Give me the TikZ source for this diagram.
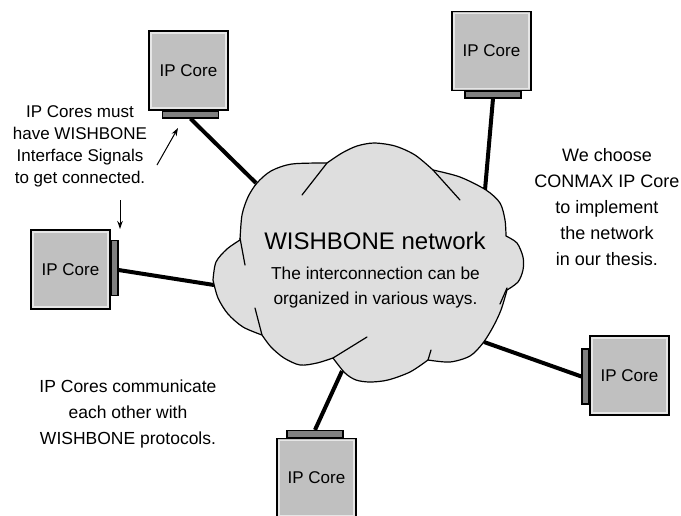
\documentclass[tikz,border=0pt]{standalone}
\usepackage{fontspec}
\setmainfont{Liberation Sans}
\usetikzlibrary{arrows.meta}
\definecolor{corefill}{HTML}{C0C0C0}
\definecolor{tabfill}{HTML}{808080}
\definecolor{cloudfill}{HTML}{DEDEDE}
\definecolor{hilite}{HTML}{E6E6E6}
\tikzset{
  core/.style={draw=black, line width=1.6pt, fill=corefill, minimum width=79pt, minimum height=79pt,
    inner sep=0pt, font=\fontsize{17}{19}\selectfont, text depth=0pt,
    path picture={\draw[hilite, line width=1.1pt]
      ([shift={(2pt,-2pt)}]path picture bounding box.north west) rectangle
      ([shift={(-2pt,2pt)}]path picture bounding box.south east);}},
  tabh/.style={draw=black, line width=1.2pt, fill=tabfill, minimum width=56pt, minimum height=7pt, inner sep=0pt},
  tabv/.style={draw=black, line width=1.2pt, fill=tabfill, minimum width=7pt, minimum height=55pt, inner sep=0pt},
  wire/.style={line width=4pt, black},
  cloudline/.style={line width=1.2pt, black, line join=round, line cap=round},
  note/.style={align=center, inner sep=0pt},
  pointer/.style={line width=1pt, -{Stealth[length=8pt,width=5.5pt]}}
}
\begin{document}
\begin{tikzpicture}[x=1pt, y=-1pt]
\useasboundingbox (0,0) rectangle (681,515);
\clip (0,0) rectangle (681,515);
% cloud attachment points
\coordinate (k1) at (256,183);
\coordinate (k2) at (485,190);
\coordinate (k3) at (214,285);
\coordinate (k4) at (484,342);
\coordinate (k5) at (342,371);
% tabs (interfaces)
\node[tabh] (t1) at (190.5,114.5) {};
\node[tabh] (t2) at (493,94.5) {};
\node[tabv] (t3) at (114.5,268) {};
\node[tabv] (t4) at (585.5,376.5) {};
\node[tabh] (t5) at (315,434) {};
% wires
\draw[wire] (t1.south) -- (k1);
\draw[wire] (t2.south) -- (k2);
\draw[wire] ([yshift=-2pt]t3.east) -- (k3);
\draw[wire] (t4.west) -- (k4);
\draw[wire] (t5.north) -- (k5);
% cloud
\filldraw[cloudline, fill=cloudfill]
  plot[smooth] coordinates {(213,280) (216,262) (227,249) (240,240)}
  -- plot[smooth] coordinates {(240,240) (242,215) (248,197) (257,183) (271,171) (292,164) (327,163)}
  -- plot[smooth] coordinates {(327,163) (342,153) (357,146) (374,143) (395,146) (415,155) (433,170)}
  -- plot[smooth] coordinates {(433,170) (460,177) (486,190) (500,203) (505,220) (506,236)}
  -- plot[smooth] coordinates {(506,236) (517,243) (523,257) (523,270) (518,282) (507,290)}
  -- plot[smooth] coordinates {(507,290) (501,310) (493,327) (483,343) (470,356) (450,362) (428,360)}
  -- plot[smooth] coordinates {(428,360) (410,372) (388,380) (370,382) (356,380) (345,373) (333,358)}
  -- plot[smooth] coordinates {(333,358) (317,363) (300,365) (284,358) (271,347) (262,335)}
  -- plot[smooth] coordinates {(262,335) (243,327) (228,314) (218,298) (213,280)}
  -- cycle;
\draw[cloudline] (240,238) -- (245,265);
\draw[cloudline] (327,163) -- (302,195);
\draw[cloudline] (433,170) -- (460,200);
\draw[cloudline] (507,288) -- (500,304);
\draw[cloudline] (428,360) -- (431,350);
\draw[cloudline] (333,358) -- (367,337);
\draw[cloudline] (262,335) -- (255,308);
% cores
\node[core] (c1) at (188.5,70.5) {IP Core};
\node[core] (c2) at (491.5,51) {IP Core};
\node[core] (c3) at (70.5,269.5) {IP Core};
\node[core] (c4) at (629.5,375.5) {IP Core};
\node[core] (c5) at (316.5,478) {IP Core};
% cloud texts
\node[note, anchor=base, font=\fontsize{24}{28}\selectfont] (title) at (375,249) {WISHBONE network};
\node[note, anchor=base, font=\fontsize{17.3}{25}\selectfont] (sub1) at (375.5,279) {The interconnection can be};
\node[note, anchor=base, font=\fontsize{17.3}{25}\selectfont] (sub2) at (375.5,304) {organized in various ways.};
% notes
\node[note, font=\fontsize{17}{22}\selectfont] (lnote) at (80,146)
  {IP Cores must\\have WISHBONE\\Interface Signals\\to get connected.};
\node[note, font=\fontsize{18}{26}\selectfont] (rnote) at (607,207)
  {We choose\\CONMAX IP Core\\to implement\\the network\\in our thesis.};
\node[note, font=\fontsize{17.5}{26}\selectfont] (bnote) at (128,414)
  {IP Cores communicate\\each other with\\WISHBONE protocols.};
% pointers
\coordinate (p1s) at (157,165);
\coordinate (p1e) at (178,128);
\coordinate (p2s) at (120,200);
\coordinate (p2e) at (120,229);
\draw[pointer] (p1s) -- (p1e);
\draw[pointer] (p2s) -- (p2e);
\end{tikzpicture}
\end{document}
